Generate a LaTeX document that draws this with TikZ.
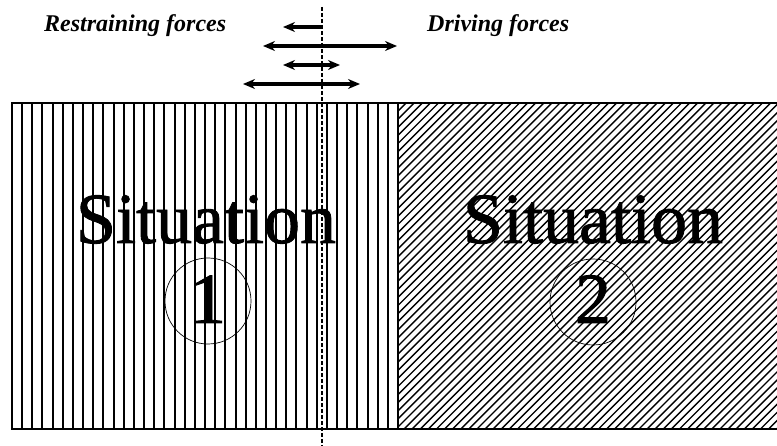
\documentclass[tikz,border=0pt]{standalone}
\usepackage{fontspec}
\setmainfont{Liberation Serif}
\usetikzlibrary{arrows.meta,positioning}

\begin{document}
\begin{tikzpicture}[
  x=1pt,y=-1pt,
  forcelabel/.style={anchor=base west,inner sep=0pt,font=\fontsize{24}{24}\selectfont\bfseries\itshape},
  sitlabel/.style={anchor=base,inner sep=0pt,font=\fontsize{72}{72}\selectfont\addfontfeature{FakeBold=1.2}},
  sitnum/.style={circle,draw,line width=0.7pt,minimum size=86pt,inner sep=0pt},
  numlabel/.style={anchor=base,inner sep=0pt,font=\fontsize{72}{72}\selectfont\addfontfeature{FakeBold=1.2}},
  vhatch/.style={line width=2pt},
  dhatch/.style={line width=1.4pt},
  arr/.style={{Stealth[length=12pt,width=10pt]}-{Stealth[length=12pt,width=10pt]},line width=3.4pt},
  larr/.style={{Stealth[length=12pt,width=10pt]}-,line width=3.4pt},
  divider/.style={line width=2.6pt,dash pattern=on 4pt off 2pt},
]
  \useasboundingbox (0,0) rectangle (777,446);

  % Labels on top
  \node[forcelabel] (restrain) at (44,32) {Restraining forces};
  \node[forcelabel] (driving) at (427,32) {Driving forces};

  % Situation 1: vertical lines
  \foreach \k in {1,...,37}{
    \pgfmathsetmacro{\xx}{round(12+\k*10.16)}
    \draw[vhatch] (\xx,103) -- (\xx,429);
  }

  % Situation 2: diagonal lines
  \begin{scope}
    \clip (398,103) rectangle (777,429);
    \foreach \k in {0,...,87}
      \draw[dhatch] (72+\k*8.1,429) -- (398+\k*8.1,103);
  \end{scope}

  % Frames
  \draw[line width=1.3pt] (12,103) rectangle (398,429);
  \draw[line width=1.3pt] (398,103) -- (779,103) (398,429) -- (779,429);

  % Texts and circles
  \node[sitlabel] (sit1) at (206,243) {Situation};
  \node[sitnum] (circ1) at (208,301) {};
  \node[numlabel] (num1) at (208,323) {1};
  \node[sitlabel] (sit2) at (593,243) {Situation};
  \node[sitnum] (circ2) at (593,302) {};
  \node[numlabel] (num2) at (593,323) {2};

  % Dividing line
  \coordinate (top) at (322,7);
  \coordinate (bottom) at (322,446);
  \draw[divider] (top) -- (bottom);

  % Force arrows
  \draw[larr] (283,27) -- (322,27);
  \draw[arr] (263,46) -- (397,46);
  \draw[arr] (283,65) -- (340,65);
  \draw[arr] (243,84) -- (360,84);
\end{tikzpicture}
\end{document}
